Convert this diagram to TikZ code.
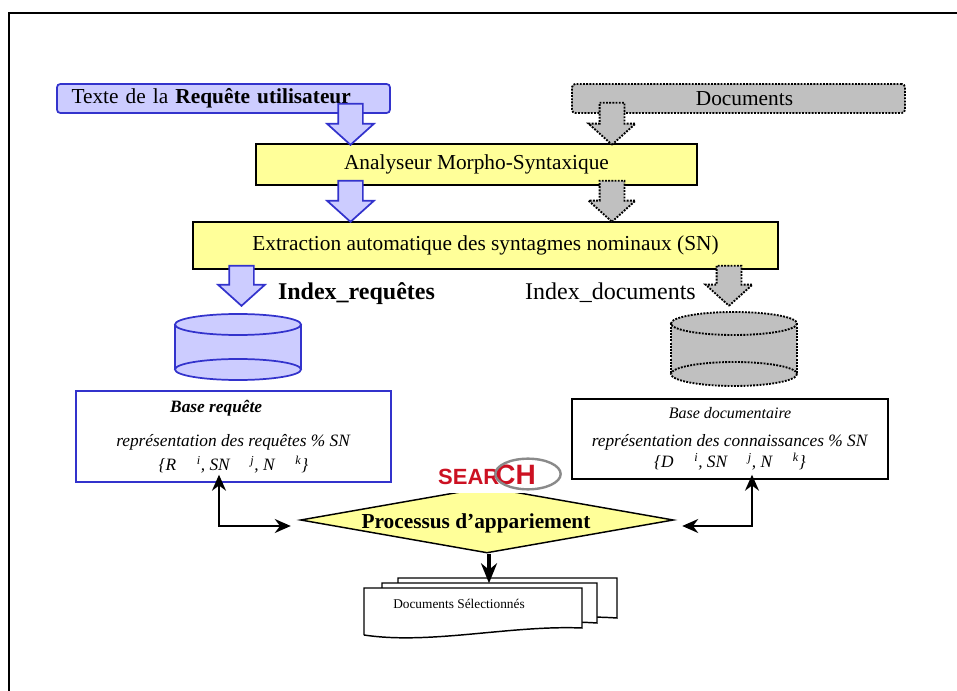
\documentclass[tikz,border=0pt]{standalone}
\usepackage{fontspec}
\setmainfont{Liberation Serif}
\newfontfamily\logofont{Liberation Sans}
\usepackage{xcolor}
\usepackage{tikz}
\usetikzlibrary{arrows.meta,shapes.arrows,shapes.geometric}
\definecolor{reqfill}{HTML}{CCCCFF}
\definecolor{reqedge}{HTML}{3333CC}
\definecolor{docfill}{HTML}{C0C0C0}
\definecolor{procfill}{HTML}{FFFF99}
\definecolor{logored}{HTML}{CC1122}
\definecolor{logogray}{HTML}{8A8A8A}

\begin{document}
\begin{tikzpicture}[
      x=0.75pt,y=-0.75pt,
      frame/.style={line width=1.5pt},
      reqbox/.style={draw=reqedge,fill=reqfill,line width=1.3pt,rounded corners=2.5pt},
      docbox/.style={draw=black,fill=docfill,line width=1.4pt,rounded corners=2.5pt,dash pattern=on 1.4pt off 1pt},
      procbox/.style={draw=black,fill=procfill,line width=1.1pt,font=\fontsize{16}{18}\selectfont},
      reqblock/.style={single arrow,draw=reqedge,fill=reqfill,line width=1.3pt,rotate=-90,anchor=tip,inner xsep=0pt,inner ysep=8.625pt,
        minimum width=33.75pt,single arrow head extend=8.25pt,single arrow tip angle=96},
      docblock/.style={single arrow,draw=black,fill=docfill,line width=1.4pt,rotate=-90,anchor=tip,inner xsep=0pt,inner ysep=8.625pt,
        minimum width=33.75pt,single arrow head extend=8.25pt,single arrow tip angle=96,dash pattern=on 1.4pt off 1pt},
      reqdisk/.style={draw=reqedge,fill=reqfill,line width=1.3pt},
      docdisk/.style={draw=black,fill=docfill,line width=1.4pt,dash pattern=on 1.4pt off 1pt},
      basebox/.style={fill=white,line width=1.1pt,align=center,inner sep=0pt},
      page/.style={draw=black,fill=white,line width=1.1pt},
      match/.style={line width=1.5pt,<->,>={Stealth[length=12pt,width=10.5pt]}},
      result/.style={line width=3pt,->,>={Stealth[length=15pt,width=12pt]},shorten >=3pt}
    ]
    \useasboundingbox (0,0) rectangle (957,691);
    \draw[frame] (9,691) -- (9,13) -- (957,13);
    % Draw the input boxes.
    \node[reqbox,minimum width=249.75pt,minimum height=21.75pt,text width=228pt,inner xsep=10.875pt,inner ysep=0pt,align=left,font=\fontsize{16}{18}\selectfont] (query) at (223.5,98.5) {Texte de la \textbf{Requête utilisateur}};
    \node[docbox,minimum width=249.75pt,minimum height=21.75pt,inner ysep=0pt,font=\fontsize{16}{18}\selectfont] (docs) at (738.5,98.5) {\hspace*{9pt}Documents};
    % Draw the processing boxes.
    \node[procbox,minimum width=330.75pt,minimum height=30.75pt] (morpho) at (476.5,164.5) {Analyseur Morpho-Syntaxique};
    \node[procbox,minimum width=438.75pt,minimum height=35.25pt] (extract) at (485.5,245.5) {Extraction automatique des syntagmes nominaux (SN)};
    % Draw the block arrows.
    \node[reqblock,minimum height=30.75pt] (qa) at (350.5,146) {};
    \node[reqblock,minimum height=30.75pt] (qb) at (350.5,223) {};
    \node[reqblock,minimum height=30pt] (qc) at (241.5,307) {};
    \node[docblock,minimum height=31.5pt] (da) at (612,146) {};
    \node[docblock,minimum height=30.75pt] (db) at (612,223) {};
    \node[docblock,minimum height=30pt] (dc) at (729,307) {};
    % Draw the index labels.
    \node[font=\fontsize{18}{20}\selectfont\bfseries] (idxreq) at (356.5,294) {Index\_requêtes};
    \node[font=\fontsize{18}{20}\selectfont] (idxdoc) at (610.5,293) {Index\_documents};
    % Draw the two disks.
    \path[fill=reqfill] (175,324.5) rectangle (301,369.5);
    \draw[reqdisk] (238,369.5) ellipse [x radius=63,y radius=10.5];
    \draw[reqdisk] (238,324.5) ellipse [x radius=63,y radius=10.5];
    \draw[reqdisk] (175,324.5) -- (175,369.5) (301,324.5) -- (301,369.5);
    \path[fill=docfill] (671,323.5) rectangle (797,374);
    \draw[docdisk] (734,374) ellipse [x radius=63,y radius=12];
    \draw[docdisk] (734,323.5) ellipse [x radius=63,y radius=11.5];
    \draw[docdisk] (671,323.5) -- (671,374) (797,323.5) -- (797,374);
    % Draw the two bases.
    \node[basebox,draw=reqedge,minimum width=236.25pt,minimum height=68.25pt] (basereq) at (233.5,436.5) {%
      \hspace*{-26pt}\fontsize{13}{15}\selectfont\textbf{\textit{Base requête}}\\[13.5pt]
      \fontsize{13}{15}\selectfont\textit{représentation des requêtes \% SN}\\[3.25pt]
      \fontsize{13}{15}\selectfont\textit{\{R\hspace{15.5pt}\textsuperscript{i}, SN\hspace{15.5pt}\textsuperscript{j}, N\hspace{15.5pt}\textsuperscript{k}\}}};
    \node[basebox,draw=black,minimum width=237pt,minimum height=60pt] (basedoc) at (730,439) {%
      \fontsize{12}{14}\selectfont\textit{Base documentaire}\\[9pt]
      \fontsize{13}{15}\selectfont\textit{représentation des connaissances \% SN}\\[1pt]
      \fontsize{13}{15}\selectfont\textit{\{D\hspace{15.5pt}\textsuperscript{i}, SN\hspace{15.5pt}\textsuperscript{j}, N\hspace{15.5pt}\textsuperscript{k}\}}};
    % Draw the matching process and its logo.
    \node[diamond,draw=black,fill=procfill,line width=1.1pt,inner sep=0pt,minimum width=279.75pt,minimum height=49.5pt] (process) at (487,520) {};
    \node[font=\fontsize{16}{18}\selectfont\bfseries,inner sep=0pt] (proclabel) at (476,523) {Processus d’appariement};
    \fill[white] (436,455) rectangle (566,493);
    \node[text=logored,inner sep=0pt,font=\logofont\bfseries] (logo) at (487,475) {\fontsize{16.5}{18}\selectfont SEAR\fontsize{21}{22}\selectfont\hspace{-3pt}CH};
    \node[ellipse,draw=logogray,line width=1.8pt,inner sep=0pt,minimum width=49pt,minimum height=23pt] (lens) at (528,474) {};
    % Draw the selected documents.
    \draw[page] (398,618) -- (398,578) -- (617,578) -- (617,618) .. controls (560,614) and (480,624) .. (398,618);
    \draw[page] (382,623) -- (382,583) -- (597,583) -- (597,623) .. controls (540,619) and (460,629) .. (382,623);
    \node[page,draw=none,minimum width=163.5pt,minimum height=35.25pt] (selected) at (473,611.5) {};
    \draw[page] (364,635) -- (364,588) -- (582,588) -- (582,628) .. controls (510,625) and (430,645) .. (364,635);
    \node[font=\fontsize{10}{12}\selectfont,inner sep=0pt] (seltext) at (459,604) {Documents Sélectionnés};
    % Draw the connectors.
    \coordinate (cornerl) at (219,526);
    \coordinate (cornerr) at (752,526);
    \draw[match] ([yshift=6pt]basereq.south -| cornerl) -- (cornerl) -- ([xshift=-6.75pt]process.west |- cornerl);
    \draw[match] ([xshift=6pt]process.east |- cornerr) -- (cornerr) -- ([yshift=3.75pt]basedoc.south -| cornerr);
    \draw[result] ([xshift=1.5pt]process.south) -- ([xshift=1.5pt]process.south |- selected.north);
\end{tikzpicture}
\end{document}
